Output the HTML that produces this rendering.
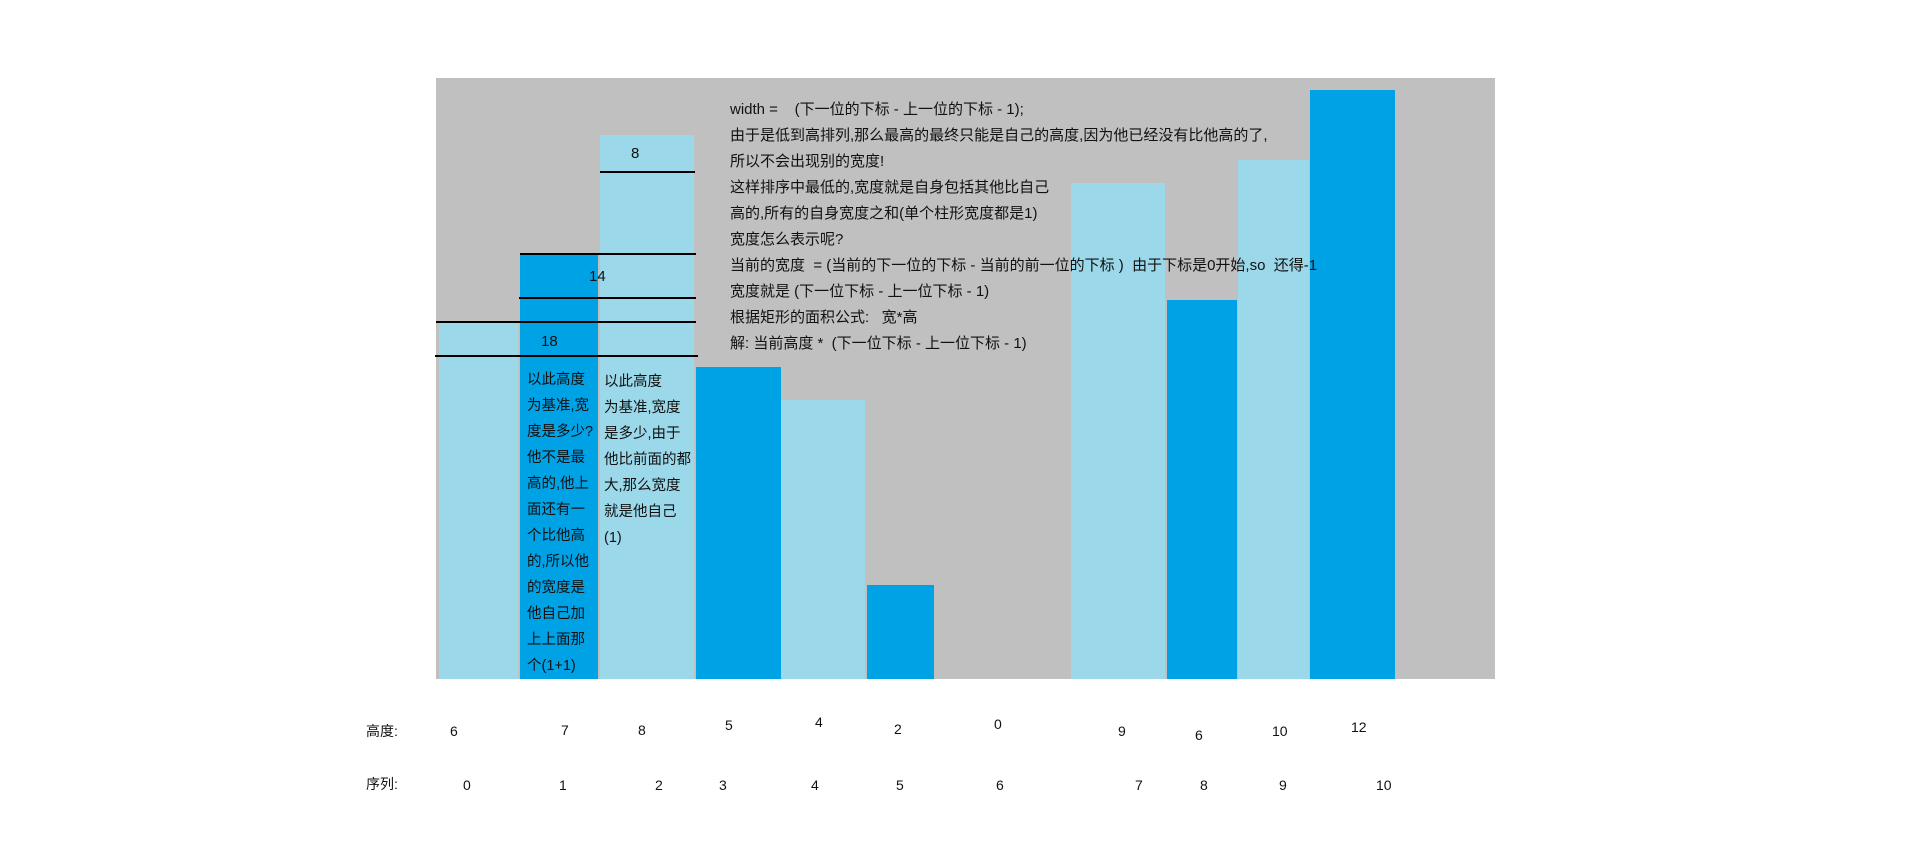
<!DOCTYPE html>
<html><head><meta charset="utf-8"><style>
body{margin:0;width:1914px;height:864px;background:#fff;overflow:hidden;position:relative;font-family:"Liberation Sans","Noto Sans CJK SC",sans-serif;color:#111}
.a{position:absolute;white-space:nowrap;font-size:14px;line-height:18px}
.bar{position:absolute}
.ln{position:absolute;height:1.5px;background:#000}
.tx{position:absolute;font-size:15px;line-height:26px;white-space:nowrap}
</style></head><body>
<div style="position:absolute;left:436px;top:78px;width:1059px;height:601px;background:#c0c0c0"></div>
<div id="bars"></div>
<div class="ln" style="left:600px;top:171px;width:95px"></div>
<div class="ln" style="left:520px;top:253px;width:176px"></div>
<div class="ln" style="left:519px;top:297px;width:177px"></div>
<div class="ln" style="left:436px;top:321px;width:260px"></div>
<div class="ln" style="left:435px;top:355px;width:263px"></div>
<div class="a" style="left:631px;top:145px;font-size:15px">8</div>
<div class="a" style="left:589px;top:268px;font-size:15px">14</div>
<div class="a" style="left:541px;top:333px;font-size:15px">18</div>
<div class="tx" style="left:730px;top:97px">width =&nbsp;&nbsp;&nbsp;&nbsp;(下一位的下标 - 上一位的下标 - 1);<br>由于是低到高排列,那么最高的最终只能是自己的高度,因为他已经没有比他高的了,<br>所以不会出现别的宽度!<br>这样排序中最低的,宽度就是自身包括其他比自己<br>高的,所有的自身宽度之和(单个柱形宽度都是1)<br>宽度怎么表示呢?<br>当前的宽度&nbsp;&nbsp;= (当前的下一位的下标 - 当前的前一位的下标 )&nbsp;&nbsp;由于下标是0开始,so&nbsp;&nbsp;还得-1<br>宽度就是 (下一位下标 - 上一位下标 - 1)<br>根据矩形的面积公式:&nbsp;&nbsp;&nbsp;宽*高<br>解: 当前高度 *&nbsp;&nbsp;(下一位下标 - 上一位下标 - 1)</div>
<div class="tx" style="left:527px;top:367px;font-size:14.5px">以此高度<br>为基准,宽<br>度是多少?<br>他不是最<br>高的,他上<br>面还有一<br>个比他高<br>的,所以他<br>的宽度是<br>他自己加<br>上上面那<br>个(1+1)</div>
<div class="tx" style="left:604px;top:369px;font-size:14.5px">以此高度<br>为基准,宽度<br>是多少,由于<br>他比前面的都<br>大,那么宽度<br>就是他自己<br>(1)</div>
<div class="a" style="left:366px;top:722px">高度:</div>
<div class="a" style="left:366px;top:775px">序列:</div>
<div id="labels"></div>
<script>
const categories=[0,1,2,3,4,5,6,7,8,9,10];
const heights=[6,7,8,5,4,2,0,9,6,10,12];
const drawnHeights=[7.25,8.68,11.08,6.35,5.68,1.92,0,10.1,7.72,10.57,12];
const barShades=['light','dark','light','dark','light','dark','light','light','dark','light','dark'];
const barLeft=[439,520,600,696,781,867,940,1071,1167,1238,1310];
const barRight=[518,598,694,781,865,934,1000,1165,1237,1309,1395];
const heightLabelX=[450,561,638,725,815,894,994,1118,1195,1272,1351];
const heightLabelY=[722,721,721,716,713,720,715,722,726,722,718];
const indexLabelX=[463,559,655,719,811,896,996,1135,1200,1279,1376];
const baseY=679, unit=589/12;
const y=v=>baseY-v*unit;
const bars=document.getElementById('bars');
categories.forEach((c,i)=>{
  if(drawnHeights[i]<=0)return;
  const d=document.createElement('div');
  d.className='bar';
  
  
  d.style.left=barLeft[i]+'px';d.style.width=(barRight[i]-barLeft[i])+'px';
  d.style.top=y(drawnHeights[i])+'px';d.style.height=(baseY-y(drawnHeights[i]))+'px';
  d.style.background=barShades[i]==='dark'?'#00a2e6':'#9bd8ea';
  bars.appendChild(d);
});
const L=document.getElementById('labels');
categories.forEach((c,i)=>{
  const h=document.createElement('div');h.className='a';
  
  
  h.textContent=heights[i];h.style.left=heightLabelX[i]+'px';h.style.top=heightLabelY[i]+'px';
  L.appendChild(h);
  const k=document.createElement('div');k.className='a';
  
  
  k.textContent=c;k.style.left=indexLabelX[i]+'px';k.style.top='776px';
  L.appendChild(k);
});
</script>
</body></html>
